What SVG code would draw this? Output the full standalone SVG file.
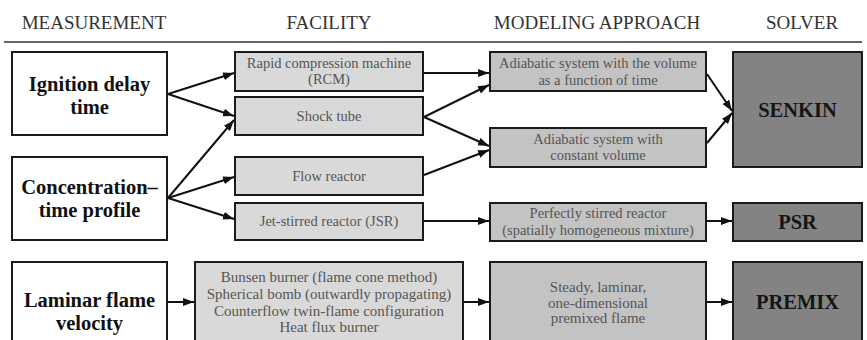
<svg xmlns="http://www.w3.org/2000/svg" width="867" height="340" viewBox="0 0 867 340">
<defs>
<marker id="ah" markerUnits="userSpaceOnUse" markerWidth="12" markerHeight="10" refX="11" refY="4" orient="auto">
<path d="M0,0 L11,4 L0,8 Z" fill="#111"/>
</marker>
<style>
text{font-family:'Liberation Serif','Times New Roman',Times,'DejaVu Serif',serif;text-anchor:middle}
.hdr{font-size:19px;fill:#333}
.meas rect{fill:#fff;stroke:#1a1a1a;stroke-width:2}
.fac rect{fill:#d9d9d9;stroke:#1a1a1a;stroke-width:2}
.mod rect{fill:#c3c3c3;stroke:#1a1a1a;stroke-width:2}
.sol rect{fill:#838383;stroke:#1a1a1a;stroke-width:2}
.mt{font-size:20.5px;font-weight:bold;fill:#111}
.bt{font-size:14.5px;fill:#555}
.bt2{font-size:15px;fill:#555}
.st{font-size:20.5px;font-weight:bold;fill:#151515}
.con line{stroke:#111;stroke-width:2;fill:none}
</style>
</defs>
<rect width="867" height="340" fill="#fff"/>
<g id="headers">
<text class="hdr" x="94" y="29">MEASUREMENT</text>
<text class="hdr" x="329" y="29">FACILITY</text>
<text class="hdr" x="597" y="29">MODELING APPROACH</text>
<text class="hdr" x="802" y="29">SOLVER</text>
<line x1="4" y1="42" x2="862" y2="42" stroke="#333" stroke-width="1.5"/>
</g>
<g id="m-ignition" class="meas"><rect x="12" y="52" width="155" height="83"/>
<text class="mt" x="89.5" y="91">Ignition delay</text><text class="mt" x="89.5" y="114">time</text></g>
<g id="m-concentration" class="meas"><rect x="12" y="157" width="155" height="83"/>
<text class="mt" x="89.5" y="194">Concentration–</text><text class="mt" x="89.5" y="217">time profile</text></g>
<g id="m-laminar" class="meas"><rect x="12" y="262" width="155" height="90"/>
<text class="mt" x="89.5" y="307">Laminar flame</text><text class="mt" x="89.5" y="330">velocity</text></g>
<g id="f-rcm" class="fac"><rect x="235" y="52" width="188" height="39"/>
<text class="bt" x="329" y="67.5">Rapid compression machine</text><text class="bt" x="329" y="84">(RCM)</text></g>
<g id="f-shock" class="fac"><rect x="235" y="97" width="188" height="38"/>
<text class="bt" x="329" y="121">Shock tube</text></g>
<g id="f-flow" class="fac"><rect x="235" y="157" width="188" height="38"/>
<text class="bt" x="329" y="181">Flow reactor</text></g>
<g id="f-jsr" class="fac"><rect x="235" y="203" width="188" height="37"/>
<text class="bt" x="329" y="226">Jet-stirred reactor (JSR)</text></g>
<g id="f-flame" class="fac"><rect x="195" y="262" width="268" height="90"/>
<text class="bt2" x="329" y="282">Bunsen burner (flame cone method)</text>
<text class="bt2" x="329" y="299">Spherical bomb (outwardly propagating)</text>
<text class="bt2" x="329" y="315.5">Counterflow twin-flame configuration</text>
<text class="bt2" x="329" y="332">Heat flux burner</text></g>
<g id="mod-volume" class="mod"><rect x="490" y="52" width="216" height="39"/>
<text class="bt" x="598" y="68">Adiabatic system with the volume</text><text class="bt" x="598" y="85">as a function of time</text></g>
<g id="mod-constant" class="mod"><rect x="490" y="128" width="216" height="39"/>
<text class="bt" x="598" y="143.5">Adiabatic system with</text><text class="bt" x="598" y="160">constant volume</text></g>
<g id="mod-psr" class="mod"><rect x="490" y="203" width="216" height="38"/>
<text class="bt" x="598" y="218">Perfectly stirred reactor</text><text class="bt" x="598" y="234.5">(spatially homogeneous mixture)</text></g>
<g id="mod-flame" class="mod"><rect x="490" y="262" width="216" height="90"/>
<text class="bt2" x="598" y="292">Steady, laminar,</text><text class="bt2" x="598" y="307.5">one-dimensional</text><text class="bt2" x="598" y="323">premixed flame</text></g>
<g id="s-senkin" class="sol"><rect x="733" y="52" width="129" height="115"/>
<text class="st" x="797.5" y="117">SENKIN</text></g>
<g id="s-psr" class="sol"><rect x="733" y="203" width="129" height="38"/>
<text class="st" x="797.5" y="229">PSR</text></g>
<g id="s-premix" class="sol"><rect x="733" y="262" width="129" height="90"/>
<text class="st" x="797.5" y="309">PREMIX</text></g>
<g id="connectors" class="con">
<line x1="168" y1="94" x2="234" y2="73" marker-end="url(#ah)"/>
<line x1="168" y1="94" x2="234" y2="116" marker-end="url(#ah)"/>
<line x1="168" y1="198" x2="234" y2="120" marker-end="url(#ah)"/>
<line x1="168" y1="198" x2="234" y2="177" marker-end="url(#ah)"/>
<line x1="168" y1="198" x2="234" y2="219" marker-end="url(#ah)"/>
<line x1="168" y1="302" x2="194" y2="302" marker-end="url(#ah)"/>
<line x1="424" y1="73" x2="489" y2="73" marker-end="url(#ah)"/>
<line x1="424" y1="117" x2="489" y2="85" marker-end="url(#ah)"/>
<line x1="424" y1="117" x2="489" y2="146" marker-end="url(#ah)"/>
<line x1="424" y1="175" x2="489" y2="150" marker-end="url(#ah)"/>
<line x1="424" y1="221" x2="489" y2="221" marker-end="url(#ah)"/>
<line x1="464" y1="302" x2="489" y2="302" marker-end="url(#ah)"/>
<line x1="707" y1="74" x2="732" y2="111" marker-end="url(#ah)"/>
<line x1="707" y1="143" x2="732" y2="113" marker-end="url(#ah)"/>
<line x1="707" y1="221" x2="732" y2="221" marker-end="url(#ah)"/>
<line x1="707" y1="302" x2="732" y2="302" marker-end="url(#ah)"/>
</g>
</svg>
